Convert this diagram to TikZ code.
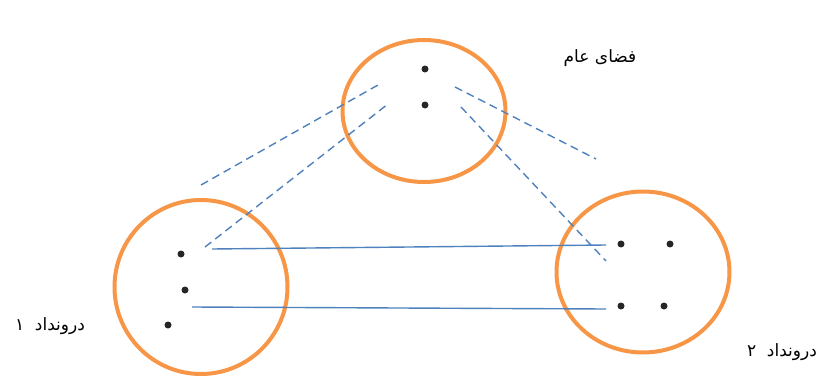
\documentclass[tikz,border=0pt]{standalone}
\usepackage{fontspec}
\newfontfamily\arabicfont[Script=Arabic]{DejaVu Sans}
\TeXXeTstate=1
\usetikzlibrary{shapes.geometric}

\begin{document}
\begin{tikzpicture}[x=1pt, y=-1pt,
    ring/.style={ellipse, draw=ringColour, line width=4pt, inner sep=0pt},
    dot/.style={circle, fill=black!85, inner sep=0pt, minimum size=7pt},
    link/.style={draw=linkColour, line width=1.4pt},
    dashlink/.style={draw=linkColour, line width=1.4pt, dash pattern=on 8pt off 5pt},
    label/.style={font=\arabicfont\fontsize{17}{20}\selectfont, inner sep=0pt}]

    \definecolor{ringColour}{HTML}{F79646}
    \definecolor{linkColour}{HTML}{4F81BD}

    % Fix page size
    \useasboundingbox (0,0) rectangle (823,380);

    % Draw the three spaces
    \node[ring, minimum width=163pt, minimum height=142pt] (generic) at (424,111) {};
    \node[ring, minimum width=173pt, minimum height=174pt] (inputA) at (201,287) {};
    \node[ring, minimum width=173pt, minimum height=161pt] (inputB) at (643,272) {};

    % Draw the elements
    \node[dot] (g1) at (425,69) {};
    \node[dot] (g2) at (425,105) {};
    \node[dot] (a1) at (181,254) {};
    \node[dot] (a2) at (185,290) {};
    \node[dot] (a3) at (168,325) {};
    \node[dot] (b1) at (621,244) {};
    \node[dot] (b2) at (670,244) {};
    \node[dot] (b3) at (621,306) {};
    \node[dot] (b4) at (664,306) {};

    % Line ends
    \coordinate (gLo) at (378,85);
    \coordinate (gLi) at (388,104);
    \coordinate (gRo) at (455,87);
    \coordinate (gRi) at (461,107);
    \coordinate (aO) at (201,185);
    \coordinate (aI) at (205,247);
    \coordinate (bO) at (596,159);
    \coordinate (bI) at (606,261);
    \coordinate (aTop) at (212,249);
    \coordinate (aBot) at (192,307);
    \coordinate (bTop) at (606,245);
    \coordinate (bBot) at (606,309);

    % Draw the mappings
    \draw[dashlink] (aO) -- (gLo);
    \draw[dashlink] (aI) -- (gLi);
    \draw[dashlink] (gRo) -- (bO);
    \draw[dashlink] (gRi) -- (bI);
    \draw[link] (aTop) -- (bTop);
    \draw[link] (aBot) -- (bBot);

    % Labels
    \node[label] (genericLabel) at (600,58) {\beginR فضای عام\endR};
    \node[label] (inputALabel) at (50,326) {\beginR درونداد \ ۱\endR};
    \node[label] (inputBLabel) at (782,352) {\beginR درونداد \ ۲\endR};

\end{tikzpicture}
\end{document}
